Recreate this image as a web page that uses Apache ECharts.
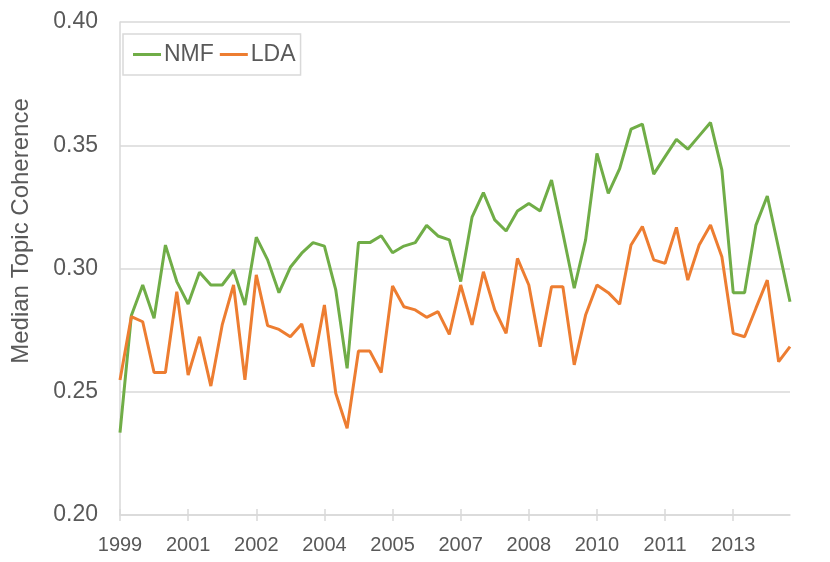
<!DOCTYPE html>
<html>
<head>
<meta charset="utf-8">
<script src="https://cdn.jsdelivr.net/npm/echarts@6/dist/echarts.min.js"></script>
<style>
html,body{margin:0;padding:0;background:#fff;}
#chart{width:830px;height:562px;}
</style>
</head>
<body>
<div id="chart"></div>
<script>
var categories = [
 '1999 Q1','1999 Q2','1999 Q3','1999 Q4','2000 Q1','2000 Q2','2000 Q3','2000 Q4',
 '2001 Q1','2001 Q2','2001 Q3','2001 Q4','2002 Q1','2002 Q2','2002 Q3','2002 Q4',
 '2003 Q1','2003 Q2','2003 Q3','2003 Q4','2004 Q1','2004 Q2','2004 Q3','2004 Q4',
 '2005 Q1','2005 Q2','2005 Q3','2005 Q4','2006 Q1','2006 Q2','2006 Q3','2006 Q4',
 '2007 Q1','2007 Q2','2007 Q3','2007 Q4','2008 Q1','2008 Q2','2008 Q3','2008 Q4',
 '2009 Q1','2009 Q2','2009 Q3','2009 Q4','2010 Q1','2010 Q2','2010 Q3','2010 Q4',
 '2011 Q1','2011 Q2','2011 Q3','2011 Q4','2012 Q1','2012 Q2','2012 Q3','2012 Q4',
 '2013 Q1','2013 Q2','2013 Q3','2013 Q4'
];
var tickLabels = ['1999','2001','2002','2004','2005','2007','2008','2010','2011','2013'];
var yTicks = [0.20, 0.25, 0.30, 0.35, 0.40];

var nmf = [
 0.2334,0.2809,0.2933,0.2798,0.3095,0.2947,0.2856,0.2985,0.2933,0.2933,
 0.2994,0.2852,0.3127,0.3035,0.2902,0.3005,0.3062,0.3105,0.3091,0.2913,
 0.2595,0.3105,0.3105,0.3133,0.3064,0.3091,0.3105,0.3175,0.3132,0.3116,
 0.2947,0.3208,0.3308,0.3197,0.3152,0.3233,0.3264,0.3233,0.3359,0.3143,
 0.2920,0.3116,0.3467,0.3305,0.3405,0.3565,0.3586,0.3383,0.3454,0.3524,
 0.3484,0.3538,0.3592,0.3400,0.2902,0.2902,0.3176,0.3294,0.3081,0.2865
];
var lda = [
 0.2548,0.2805,0.2784,0.2578,0.2578,0.2906,0.2568,0.2723,0.2523,0.2771,
 0.2933,0.2548,0.2974,0.2768,0.2753,0.2723,0.2775,0.2602,0.2852,0.2494,
 0.2352,0.2665,0.2665,0.2578,0.2929,0.2845,0.2832,0.2802,0.2825,0.2733,
 0.2933,0.2771,0.2987,0.2832,0.2737,0.3041,0.2933,0.2683,0.2926,0.2926,
 0.2609,0.2811,0.2933,0.2902,0.2855,0.3095,0.3170,0.3035,0.3021,0.3167,
 0.2953,0.3095,0.3176,0.3048,0.2737,0.2723,0.2839,0.2953,0.2622,0.2683
];

var chart = echarts.init(document.getElementById('chart'));
var font = 'Liberation Sans, Arial, Helvetica, sans-serif';
var txt = '#595959';
var lineCol = '#d9d9d9';
chart.setOption({
  animation: false,
  grid: {left: 120, right: 40, top: 22, bottom: 47},
  legend: {
    left: 123, top: 34,
    padding: [9, 5, 9, 10],
    itemGap: 6,
    itemWidth: 28, itemHeight: 3,
    icon: 'rect',
    borderColor: lineCol, borderWidth: 1.5,
    textStyle: {fontFamily: font, fontSize: 23, color: txt, padding: [0, 0, 0, -2]},
    data: ['NMF', 'LDA']
  },
  graphic: [{
    type: 'text',
    x: 21, y: 231,
    rotation: Math.PI / 2,
    style: {
      text: 'Median Topic Coherence',
      fontFamily: font, fontSize: 24, fill: txt,
      align: 'center', verticalAlign: 'middle'
    }
  }],
  xAxis: [{
    type: 'category',
    data: categories,
    boundaryGap: false,
    axisLine: {lineStyle: {color: lineCol, width: 1.5}},
    axisTick: {interval: 5, length: 6, lineStyle: {color: lineCol, width: 1.5}},
    axisLabel: {
      interval: 5, margin: 20,
      fontFamily: font, fontSize: 20, color: txt,
      formatter: function (v, i) { return tickLabels[i / 6] || ''; }
    },
    splitLine: {show: false}
  }, {
    type: 'category',
    data: categories,
    boundaryGap: false,
    position: 'bottom',
    axisLine: {show: false},
    axisTick: {interval: 5, inside: true, length: 6, lineStyle: {color: lineCol, width: 1.5}},
    axisLabel: {show: false},
    splitLine: {show: false}
  }],
  yAxis: {
    type: 'value',
    min: yTicks[0], max: yTicks[yTicks.length - 1], interval: 0.05,
    axisLine: {show: true, lineStyle: {color: lineCol, width: 1.5}},
    axisTick: {show: false},
    axisLabel: {
      margin: 22, fontFamily: font, fontSize: 23, color: txt,
      formatter: function (v) { return v.toFixed(2); }
    },
    splitLine: {lineStyle: {color: lineCol, width: 1.5}}
  },
  series: [{
    name: 'NMF', type: 'line', data: nmf,
    symbol: 'none',
    lineStyle: {color: '#70AD47', width: 3},
    itemStyle: {color: '#70AD47'}
  }, {
    name: 'LDA', type: 'line', data: lda,
    symbol: 'none',
    lineStyle: {color: '#ED7D31', width: 3},
    itemStyle: {color: '#ED7D31'}
  }]
});
</script>
</body>
</html>
